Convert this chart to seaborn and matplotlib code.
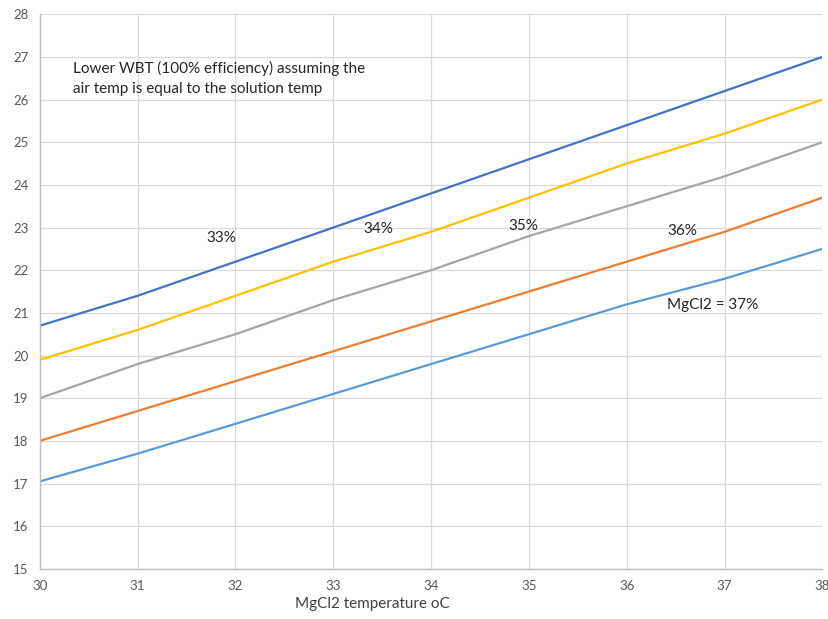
import numpy as np
import pandas as pd
import seaborn as sns
import matplotlib.pyplot as plt

# MgCl2 solution temperature (oC)
temps = [30, 31, 32, 33, 34, 35, 36, 37, 38]

# lower wet bulb temperature for each MgCl2 concentration
wbt_33 = [20.7, 21.4, 22.2, 23.0, 23.8, 24.6, 25.4, 26.2, 27.0]
wbt_34 = [19.9, 20.6, 21.4, 22.2, 22.9, 23.7, 24.5, 25.2, 26.0]
wbt_35 = [19.0, 19.8, 20.5, 21.3, 22.0, 22.8, 23.5, 24.2, 25.0]
wbt_36 = [18.0, 18.7, 19.4, 20.1, 20.8, 21.5, 22.2, 22.9, 23.7]
wbt_37 = [17.05, 17.7, 18.4, 19.1, 19.8, 20.5, 21.2, 21.8, 22.5]

series_names = ["33%", "34%", "35%", "36%", "MgCl2 = 37%"]
series_colors = ["#4472C4", "#FFC000", "#A5A5A5", "#ED7D31", "#5B9BD5"]
label_pos = [(31.86, 22.75), (33.46, 22.96), (34.94, 23.03), (36.57, 22.92), (36.88, 21.18)]


def build_frame():
    rows = []
    for name, vals in zip(series_names, [wbt_33, wbt_34, wbt_35, wbt_36, wbt_37]):
        for t, v in zip(temps, vals):
            rows.append({"temp": t, "wbt": v, "conc": name})
    return pd.DataFrame(rows)


def draw_chart():
    sns.set_style("white")
    plt.rcParams['font.family'] = ['Lato', 'DejaVu Sans']

    df = build_frame()
    fig = plt.figure(figsize=(8.29, 6.19), dpi=100)
    ax = fig.add_axes([0.048, 0.081, 0.944, 0.896])

    sns.lineplot(data=df, x="temp", y="wbt", hue="conc", palette=series_colors,
                 hue_order=series_names, linewidth=1.6, legend=False, ax=ax)

    ax.set_xlim(30, 38)
    ax.set_ylim(15, 28)
    ax.set_xticks(np.arange(30, 39, 1))
    ax.set_yticks(np.arange(15, 29, 1))
    ax.grid(True, color="#D9D9D9", linewidth=0.9)
    ax.set_axisbelow(True)
    for side in ["top", "right"]:
        ax.spines[side].set_visible(False)
    for side in ["left", "bottom"]:
        ax.spines[side].set_color("#BFBFBF")
        ax.spines[side].set_linewidth(1.0)
    ax.tick_params(axis="both", length=0, labelsize=9.5, labelcolor="#595959", pad=8)

    ax.set_ylabel("")
    ax.set_xlabel("MgCl2 temperature oC", fontsize=11, color="#404040")
    ax.xaxis.set_label_coords(0.425, -0.05)

    ax.text(30.34, 26.5, "Lower WBT (100% efficiency) assuming the\nair temp is equal to the solution temp",
            fontsize=11, color="#262626", va="center", ha="left", linespacing=1.5)
    for name, (lx, ly) in zip(series_names, label_pos):
        ax.text(lx, ly, name, fontsize=11, color="#262626", ha="center", va="center")

    fig.savefig("out.png", dpi=100)


if __name__ == "__main__":
    draw_chart()
